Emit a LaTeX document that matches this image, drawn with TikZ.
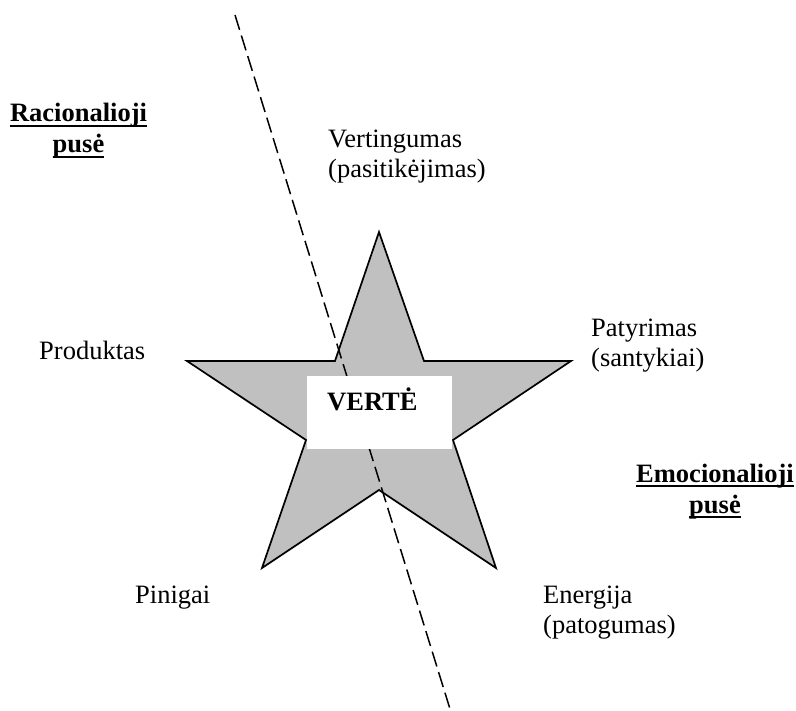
\documentclass[tikz,border=0pt]{standalone}
\usepackage{fontspec}
\setmainfont{Liberation Serif}
\newcommand{\ulword}[1]{\setbox0\hbox{#1}\rlap{\rule[-5pt]{\wd0}{1.8pt}}\box0}
\begin{document}
\begin{tikzpicture}[x=1pt,y=-1pt,
  lbl/.style={inner sep=0pt, align=left, font=\fontsize{26.5}{30}\selectfont},
  side/.style={inner sep=0pt, align=center, font=\fontsize{26.5}{31}\selectfont\bfseries},
  starshape/.style={fill={rgb,255:red,192;green,192;blue,192}, draw=black, line width=1.7pt, line join=miter},
  divider/.style={line width=1.5pt, dash pattern=on 15.5pt off 6pt},
  centerbox/.style={fill=white, draw=none, inner sep=0pt}]
\useasboundingbox (0,0) rectangle (796,711);

% star points
\coordinate (top) at (379,232);
\coordinate (iur) at (424,361);
\coordinate (rgt) at (571,361);
\coordinate (ilr) at (453,440);
\coordinate (brt) at (496,568);
\coordinate (ibt) at (379,490);
\coordinate (blt) at (262,568);
\coordinate (ill) at (306,440);
\coordinate (lft) at (187,361);
\coordinate (iul) at (335,361);

\draw[starshape] (top) -- (iur) -- (rgt) -- (ilr) -- (brt) -- (ibt) -- (blt) -- (ill) -- (lft) -- (iul) -- cycle;

% dividing line between the two sides
\coordinate (dtop) at (235,15);
\coordinate (dbot) at (450,709);
\draw[divider] (dtop) -- (dbot);

% central label
\path[centerbox] (307,376) rectangle (452,449);
\node[inner sep=0pt, anchor=base west, font=\fontsize{26.5}{30}\selectfont\bfseries] (verte) at (327,411) {VERTĖ};

% labels around the star (base anchor = last line's baseline)
\node[lbl, anchor=base west] (vertingumas) at (328,178) {Vertingumas\\(pasitikėjimas)};
\node[lbl, anchor=base west] (produktas) at (39,360) {Produktas};
\node[lbl, anchor=base west] (patyrimas) at (591,367) {Patyrimas\\(santykiai)};
\node[lbl, anchor=base west] (pinigai) at (135,603) {Pinigai};
\node[lbl, anchor=base west] (energija) at (543,633) {Energija\\(patogumas)};

% the two sides
\node[side, anchor=base] (racio) at (78.5,153) {\ulword{Racionalioji}\\\ulword{pusė}};
\node[side, anchor=base] (emoc) at (715,513) {\ulword{Emocionalioji}\\\ulword{pusė}};
\end{tikzpicture}
\end{document}
